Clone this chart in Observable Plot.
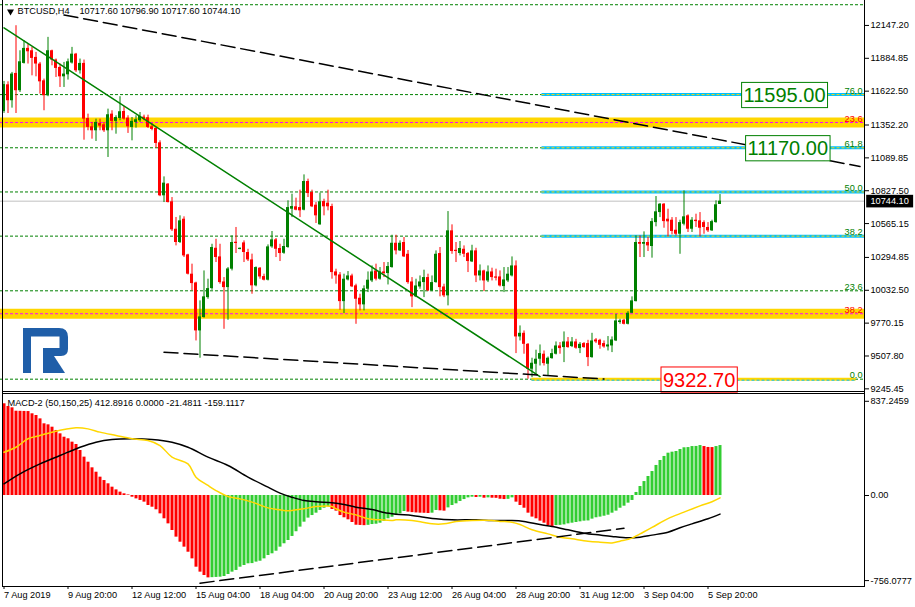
<!DOCTYPE html>
<html><head><meta charset="utf-8">
<script src="https://cdn.jsdelivr.net/npm/d3@7"></script>
<script src="https://cdn.jsdelivr.net/npm/@observablehq/plot@0.6"></script>
<style>
html,body{margin:0;padding:0;background:#fff;}
#chart{width:915px;height:607px;overflow:hidden;position:relative;background:#fff}
#chart svg{display:block}
</style></head><body><div id="chart"></div>
<script>
// ---------------- DATA ----------------
const symbol = "BTCUSD,H4";
const open = [
11460,11673,11546,11764,11626,11844,11964,11945,11892,11839,
11705,11586,11945,11871,11812,11737,11753,11847,11918,11785,
11844,11404,11338,11306,11365,11354,11306,11439,11381,11404,
11460,11407,11333,11373,11386,11415,11410,11338,11325,11210,
10787,10880,10739,10520,10414,10600,10315,10161,10091,9708,
9815,9974,10046,10368,10299,10099,10054,10201,10416,10358,
10411,10334,10275,10068,10209,10142,10113,10379,10435,10366,
10328,10374,10680,10699,10693,10672,10901,10813,10712,10555,
10741,10728,10701,10179,10155,9942,10115,10147,10068,9969,
9916,10041,10107,10187,10121,10179,10166,10214,10408,10347,
10414,10320,10099,9980,10059,10094,10134,10028,10094,10326,
10059,9988,10507,10352,10326,10360,10326,10259,10347,10147,
10187,10107,10179,10139,10139,10062,10107,10147,10227,9660,
9689,9601,9402,9442,9482,9522,9442,9487,9522,9588,
9575,9620,9583,9620,9567,9607,9607,9495,9636,9633,
9607,9580,9588,9628,9775,9793,9761,9849,9942,10414,
10400,10414,10382,10573,10653,10720,10600,10592,10512,10480,
10560,10627,10520,10592,10587,10573,10534,10507,10573,10717.6];
const high = [
11700,11697,11772,12145,11945,12025,11998,11972,11932,11852,
11719,12052,11950,11879,11839,11852,11879,11972,11924,11879,
11871,11439,11373,11399,11399,11373,11479,11466,11426,11578,
11500,11426,11412,11426,11452,11431,11431,11365,11333,11226,
10938,10885,10773,10614,10627,10619,10320,10241,10097,9948,
10187,10121,10400,10440,10400,10134,10214,10467,10534,10370,
10427,10360,10321,10219,10214,10161,10395,10502,10446,10400,
10440,10747,10800,10768,10832,10954,10920,10832,10733,10808,
10760,10832,10720,10201,10174,10161,10182,10161,10081,10001,
10068,10179,10227,10241,10214,10254,10254,10472,10472,10427,
10454,10350,10134,10121,10147,10193,10161,10147,10347,10374,
10081,10661,10555,10414,10422,10387,10334,10392,10368,10235,
10193,10227,10209,10201,10187,10214,10214,10299,10267,9748,
9708,9607,9490,9554,9596,9548,9500,9562,9620,9615,
9700,9655,9655,9641,9615,9615,9633,9689,9647,9641,
9628,9663,9660,9841,9801,9801,9862,9980,10467,10467,
10499,10454,10605,10781,10725,10725,10680,10613,10613,10592,
10826,10635,10613,10640,10653,10587,10573,10592,10747,10796.9];
const low = [
11445,11444,11487,11444,11612,11839,11839,11745,11737,11599,
11466,11578,11825,11732,11652,11652,11711,11839,11772,11759,
11231,11306,11239,11221,11306,11293,11093,11306,11279,11386,
11391,11285,11226,11327,11373,11386,11325,11306,11167,10780,
10733,10730,10502,10387,10406,10294,10155,10028,9628,9490,
9810,9961,10033,10254,10081,9721,9793,10187,10326,10356,
10254,10262,10001,10060,10121,10107,10107,10368,10294,10262,
10320,10368,10613,10667,10613,10667,10773,10693,10566,10552,
10627,10667,10121,10081,9873,9846,10107,10054,9761,9868,
9868,10014,10094,10107,10113,10134,10075,10209,10315,10342,
10294,10081,9894,9974,10041,9974,10022,10022,10089,9980,
9974,9908,10320,10254,10307,10294,10174,10254,10094,10107,
10022,10094,10107,10107,10059,10014,10094,10139,9527,9628,
9522,9322.7,9335,9362,9428,9428,9348,9482,9516,9522,
9455,9570,9575,9562,9527,9570,9423,9490,9607,9562,
9570,9548,9535,9623,9761,9756,9756,9846,9940,10294,
10294,10342,10289,10539,10613,10528,10459,10475,10467,10320,
10547,10494,10494,10534,10459,10480,10494,10502,10568,10717.6];
const close = [
11675,11546,11759,11626,11857,11964,11937,11884,11839,11697,
11586,11945,11871,11804,11737,11759,11857,11918,11785,11844,
11399,11333,11306,11373,11343,11306,11434,11381,11412,11458,
11399,11338,11381,11394,11420,11397,11333,11317,11205,10787,
10888,10733,10515,10414,10587,10307,10161,10086,9708,9820,
9980,10046,10374,10294,10094,10054,10203,10414,10406,10368,
10334,10275,10068,10214,10139,10113,10379,10435,10360,10326,
10382,10693,10701,10672,10667,10901,10805,10699,10627,10739,
10699,10699,10174,10147,9942,10121,10147,10060,9961,9916,
10044,10113,10179,10121,10179,10166,10222,10408,10347,10408,
10299,10094,9980,10067,10099,10134,10028,10094,10320,10054,
9988,10507,10342,10342,10366,10320,10262,10347,10147,10187,
10107,10179,10134,10129,10067,10115,10161,10227,9660,9689,
9601,9402,9450,9482,9527,9447,9490,9527,9588,9567,
9620,9575,9620,9570,9601,9575,9495,9628,9620,9593,
9580,9596,9636,9788,9788,9761,9849,9948,10414,10400,
10414,10387,10581,10659,10720,10581,10579,10502,10480,10573,
10619,10520,10592,10581,10528,10534,10507,10581,10715,10744.1];

// MACD histogram (one per bar)
const macdHist = [
815,791,779,749,748,747,746,726,711,681,637,628,607,578,548,518,504,474,453,400,341,296,246,207,163,133,104,74,50,30,15,5,
-15,-30,-44,-59,-89,-104,-127,-163,-207,-252,-311,-370,-415,-459,-504,-563,-637,-681,-711,-732,
-730,-728,-726,-720,-702,-681,-666,-637,-622,-607,-605,-592,-584,-563,-533,-518,-495,-459,-429,-400,-364,-322,-281,
-237,-201,-178,-157,-133,-113,-98,
-124,-139,-178,-198,-216,-240,-264,-266,-268,
-265,-258,-255,-246,-231,-207,-193,-178,-163,-142,
-148,-152,-155,-157,-158,-160,
-157,-133,
-136,-139,
-110,-89,-74,-53,-36,-21,-15,
-18,-15,-24,-21,
-24,-25,-33,-36,
-34,-21,
-59,-89,-113,-157,-192,-207,-228,-246,-267,-275,
-267,-265,-261,-252,-246,-240,-234,-228,-226,-210,-198,-192,-184,-175,-157,-139,-113,-95,-68,-44,27,80,124,169,213,267,311,347,376,385,391,409,424,426,435,436,444,
435,427,426,
435,444];
// MACD lines (bar index, value)
const signalBars = [0,3,6,9,12,18,21,24,28,32,36,39,42,46,48,51,53,56,59,62,66,69,71,73,75,78,82,83,85,88,91,94,97,98,102,105,107,110,113,117,122,124,127,129,132,136,139,142,146,149,152,154,157,159,162,166,170,174,177,179];
const signalVals = [385,429,504,533,563,601,592,563,533,504,489,444,341,281,163,89,44,-9,-30,-59,-110,-127,-136,-127,-118,-98,-98,-118,-148,-172,-207,-216,-222,-216,-222,-240,-252,-252,-231,-222,-222,-230,-237,-258,-305,-341,-370,-385,-406,-415,-421,-406,-379,-341,-284,-205,-148,-92,-55,-21];
const mainLineBars = [0,4,9,14,19,23,27,32,37,42,46,51,56,61,66,69,72,75,78,82,85,88,92,95,98,102,105,108,112,118,122,127,130,134,137,141,145,149,152,156,159,162,166,169,172,176,179];
const mainLineVals = [104,193,281,355,429,474,498,504,498,474,429,341,267,163,74,21,-15,-44,-56,-65,-80,-104,-124,-151,-166,-178,-193,-207,-216,-216,-222,-222,-230,-258,-275,-305,-335,-352,-364,-376,-370,-352,-326,-287,-252,-207,-165];
const macdTitle = "MACD-2 (50,150,25) 412.8916 0.0000 -21.4811 -159.1117";

// Fibonacci (main) and second set
const fibLow = 9322.7, fibHigh = 12312.6;
const fibPcts = [0, 23.6, 38.2, 50, 61.8, 76, 100];
const fibHighlighted = [38.2, 50, 61.8, 76];
const fibHighlightStartBar = 134.5;
const fibZeroBars = [132, 213];
const fib2Levels = [11372, 9845];
const fib2Labels = ["23.6", "38.2"];

// Trend lines [bar, price]
const trendGreenBars = [0, 134], trendGreenPrices = [12128, 9344];
const trendTopBars = [15, 214], trendTopPrices = [12231, 11021];
const trendLowBars = [40, 150], trendLowPrices = [9538, 9324];
const macdTrendBars = [49, 155], macdTrendVals = [-779, -291];

// Boxed price labels
const boxTexts = ["11595.00", "11170.00", "9322.70"];
const boxBars = [184.9, 185.9, 164.75];
const boxPrices = [11595, 11170, 9322.7];
const boxColors = ["#008000", "#008000", "#ff0000"];

// Axes
const yTicks = [12147.20, 11884.85, 11622.50, 11352.20, 11089.85, 10827.50, 10565.15, 10294.85, 10032.50, 9770.15, 9507.80, 9245.45];
const macdTicks = [837.2459, 0, -756.0777];
const macdTickLabels = ["837.2459", "0.00", "-756.0777"];
const xTickBars = [0, 16, 32, 48, 64, 80, 96, 112, 128, 144, 160, 176];
const xTickLabels = ["7 Aug 2019", "9 Aug 20:00", "12 Aug 12:00", "15 Aug 04:00", "18 Aug 04:00", "20 Aug 20:00", "23 Aug 12:00", "26 Aug 04:00", "28 Aug 20:00", "31 Aug 12:00", "3 Sep 04:00", "5 Sep 20:00"];

// ---------------- CHART ----------------
const FONT = "'Liberation Sans', Arial, sans-serif";
const xDomain = [-0.875, 215.125];
const GREEN = "#008000", RED = "#ff0000";
const n = close.length;
const bars = open.map((o, i) => ({i, o, h: high[i], l: low[i], c: close[i]}));
const candleColor = d => d.c >= d.o ? GREEN : RED;
const fib = fibPcts.map(p => ({p, y: fibLow + (fibHigh - fibLow) * p / 100}));
const fibHi = fib.filter(d => fibHighlighted.includes(d.p));
const fibZero = fib.filter(d => d.p === 0);
const pts = (bs, vs) => bs.map((b, k) => ({b, v: vs[k]}));
const lastClose = close[n - 1];
const lastCloseText = lastClose.toFixed(2);
const ohlcText = [open[n-1], high[n-1], low[n-1], close[n-1]].map(v => v.toFixed(2)).join(" ");
const style = {fontFamily: FONT, fontSize: "9.2px", background: "white", color: "black", overflow: "visible"};

const main = Plot.plot({
  width: 915, height: 392, marginLeft: 0, marginRight: 51, marginTop: 0, marginBottom: 0,
  style,
  x: {domain: xDomain, axis: null},
  y: {domain: [9216.3, 12346.4]},
  color: {type: "identity"},
  marks: [
    Plot.ruleY(fib2Levels, {y: d => d, stroke: "#ffd700", strokeWidth: 10}),
    Plot.ruleY(fib2Levels, {y: d => d, stroke: "#ff00ff", strokeDasharray: "3,2"}),
    Plot.ruleY([lastClose], {y: d => d, stroke: "#c0c0c0"}),
    Plot.ruleY(fib, {y: "y", stroke: GREEN, strokeDasharray: "3,2"}),
    Plot.ruleY(fibHi, {y: "y", x1: () => fibHighlightStartBar, x2: () => xDomain[1], stroke: "#00bfff", strokeWidth: 3}),
    Plot.ruleY(fibHi, {y: "y", x1: () => fibHighlightStartBar, x2: () => xDomain[1], stroke: "#ffd700", strokeDasharray: "3,2"}),
    Plot.ruleY(fibZero, {y: "y", x1: () => fibZeroBars[0], x2: () => fibZeroBars[1], stroke: "#ffd700", strokeWidth: 3}),
    Plot.ruleY(fibZero, {y: "y", x1: () => fibZeroBars[0], x2: () => fibZeroBars[1], stroke: "#00bfff", strokeDasharray: "3,2", dy: 1}),
    Plot.ruleX(bars, {x: "i", y1: "l", y2: "h", stroke: candleColor}),
    Plot.rect(bars, {x1: d => d.i - 0.375, x2: d => d.i + 0.375, y1: "o", y2: "c", fill: candleColor}),
    Plot.line(pts(trendGreenBars, trendGreenPrices), {x: "b", y: "v", stroke: GREEN}),
    Plot.line(pts(trendTopBars, trendTopPrices), {x: "b", y: "v", stroke: "black", strokeDasharray: "14,6"}),
    Plot.line(pts(trendLowBars, trendLowPrices), {x: "b", y: "v", stroke: "black", strokeDasharray: "14,6"}),
    Plot.text(fib.filter(d => d.p < 100), {x: () => xDomain[1], y: "y", text: d => d.p.toFixed(1), textAnchor: "end", lineAnchor: "bottom", dx: -2, dy: -1, fill: GREEN}),
    Plot.text(fib2Levels, {x: () => xDomain[1], y: d => d, text: (d, i) => fib2Labels[i], textAnchor: "end", lineAnchor: "bottom", dx: -2, dy: -1, fill: RED}),
    Plot.dot([symbol], {frameAnchor: "top-left", dx: 10, dy: 11, symbol: "triangle", rotate: 180, r: 2.6, fill: "black", stroke: null}),
    Plot.text([symbol], {frameAnchor: "top-left", dx: 17, dy: 7, lineAnchor: "top", textAnchor: "start"}),
    Plot.text([ohlcText], {frameAnchor: "top-left", dx: 79, dy: 7, lineAnchor: "top", textAnchor: "start"}),
    Plot.text(boxTexts, {x: (d, i) => boxBars[i], y: (d, i) => boxPrices[i], text: d => d, fill: (d, i) => boxColors[i], fontSize: 20, textAnchor: "start", dy: 1}),
    Plot.axisY(yTicks, {anchor: "right", tickSize: 4, tickPadding: 2, tickFormat: d => d.toFixed(2), label: null}),
    Plot.text([lastClose], {x: () => xDomain[1], y: d => d, text: d => d.toFixed(2), dx: 6, textAnchor: "start", fill: "white"})
  ]
});

const hist = macdHist.map((v, i) => ({i, v, up: i > 0 && v > macdHist[i - 1]}));
const macd = Plot.plot({
  width: 915, height: 215, marginLeft: 0, marginRight: 51, marginTop: 1, marginBottom: 21,
  style,
  x: {domain: xDomain},
  y: {domain: [-808.6, 906.4]},
  color: {type: "identity"},
  marks: [
    Plot.ruleX(hist, {x: "i", y1: 0, y2: "v", stroke: d => d.up ? "#32cd32" : RED, strokeWidth: 3}),
    Plot.line(pts(mainLineBars, mainLineVals), {x: "b", y: "v", stroke: "black", curve: "catmull-rom"}),
    Plot.line(pts(signalBars, signalVals), {x: "b", y: "v", stroke: "#ffd700", curve: "catmull-rom"}),
    Plot.line(pts(macdTrendBars, macdTrendVals), {x: "b", y: "v", stroke: "black", strokeDasharray: "14,6"}),
    Plot.text([macdTitle], {frameAnchor: "top-left", dx: 7, dy: 6, lineAnchor: "top", textAnchor: "start"}),
    Plot.axisY(macdTicks, {anchor: "right", tickSize: 4, tickPadding: 2, tickFormat: d => macdTickLabels[macdTicks.indexOf(d)], label: null}),
    Plot.axisX(xTickBars, {anchor: "bottom", tickSize: 3, tickPadding: 2, tickFormat: d => xTickLabels[xTickBars.indexOf(d)], textAnchor: "start", label: null})
  ]
});

const root = document.getElementById("chart");
root.append(main, macd);

// ---------------- DECORATION ----------------
const NS = "http://www.w3.org/2000/svg";
function el(parent, tag, attrs, before) {
  const e = document.createElementNS(NS, tag);
  for (const k in attrs) e.setAttribute(k, attrs[k]);
  if (before) parent.insertBefore(e, before); else parent.appendChild(e);
  return e;
}
function boxText(t, fill, stroke, padX, padY) {
  const b = t.getBBox();
  const attrs = {x: b.x - padX, y: b.y - padY, width: b.width + 2 * padX, height: b.height + 2 * padY,
    fill, stroke, "stroke-width": 1};
  const tr = t.getAttribute("transform"); if (tr) attrs.transform = tr;
  el(t.parentNode, "rect", attrs, t);
}
main.querySelectorAll("text").forEach(t => {
  const s = t.textContent;
  const k = boxTexts.indexOf(s);
  if (k >= 0) boxText(t, "white", boxColors[k], 2, 1.6);
  else if (s === lastCloseText) boxText(t, "black", "none", 4.3, 1.3);
});

// panel borders
function line(svg, x1, y1, x2, y2) { el(svg, "line", {x1, y1, x2, y2, stroke: "black", "stroke-width": 1}); }
line(main, 2.5, 0, 2.5, 392); line(main, 864.5, 0, 864.5, 392); line(main, 2, 391.5, 865, 391.5);
line(macd, 2.5, 0, 2.5, 195); line(macd, 864.5, 0, 864.5, 195); line(macd, 2, 1.5, 865, 1.5); line(macd, 2, 194.5, 865, 194.5);

// watermark logo
const logo = el(main, "g", {fill: "#1f5ea8"});
el(logo, "path", {d: "M23,328 H59 Q68,328 68,337 V349 Q68,356 61,356 H43 V348 H59.5 V336.5 H31 V373 H23 Z"});
el(logo, "path", {d: "M43,356 H54 L65,373 H43 Z"});
</script></body></html>
